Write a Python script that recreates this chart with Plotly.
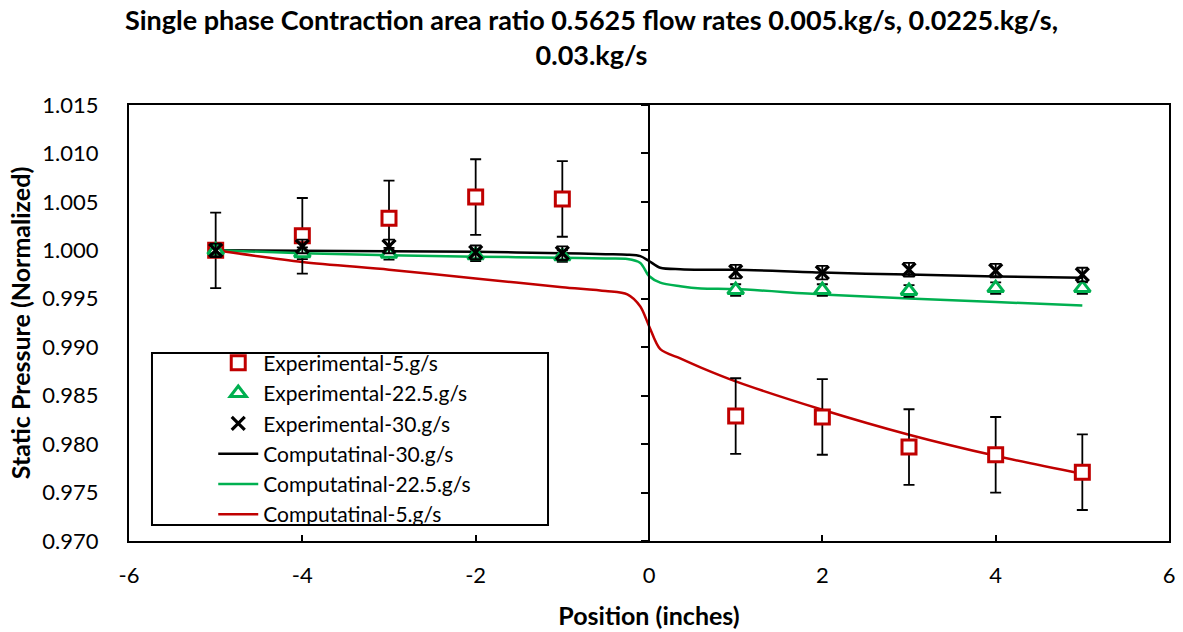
import plotly.graph_objects as go

# Measurement stations (inches from the contraction plane)
positions = [-5, -4, -3, -2, -1, 1, 2, 3, 4, 5]

# Experimental normalized static pressure
exp_5 = [1.0000, 1.0015, 1.0033, 1.0055, 1.0053, 0.9829, 0.9828, 0.9797, 0.9789, 0.9771]
exp_22_5 = [1.0000, 0.9997, 0.99965, 0.9995, 0.9994, 0.9959, 0.9959, 0.9958, 0.9961, 0.9961]
exp_30 = [1.0000, 1.0004, 1.0004, 0.9998, 0.9997, 0.9978, 0.9977, 0.9980, 0.9979, 0.9975]

# Uncertainty (+/-) of each experimental series
err_5 = 0.0039
err_22_5 = 0.0006
err_30 = 0.0007

# Computational profiles
comp_x = [-5, -4, -3, -2, -1, -0.5, -0.25, -0.1, 0, 0.13, 0.36, 0.6, 1, 2, 3, 4, 5]
comp_30 = [1.0000, 0.99995, 0.9999, 0.99985, 0.9997, 0.9996, 0.99955, 0.9994, 0.9989, 0.9982,
           0.99805, 0.9980, 0.9980, 0.9977, 0.9975, 0.9973, 0.99718]
comp_22_5 = [1.0000, 0.9997, 0.9995, 0.99935, 0.99924, 0.99915, 0.9991, 0.9987, 0.99735, 0.99666,
             0.9963, 0.99607, 0.9960, 0.99545, 0.99504, 0.99466, 0.99431]
comp_5 = [1.0000, 0.9988, 0.9980, 0.9971, 0.9962, 0.9958, 0.99545, 0.9942, 0.9922, 0.9898,
          0.98885, 0.9879, 0.98648, 0.98355, 0.98097, 0.97879, 0.97693]

x_ticks = [-6, -4, -2, 0, 2, 4, 6]
x_tick_text = ["-6", "-4", "-2", "0", "2", "4", "6"]
y_ticks = [0.970, 0.975, 0.980, 0.985, 0.990, 0.995, 1.000, 1.005, 1.010, 1.015]

RED = "#C00000"
GREEN = "#00B050"
BLACK = "#000000"
FONT = "Lato"

fig = go.Figure()

def err(v):
    return dict(type="constant", value=v, color=BLACK, thickness=1.8, width=5.5)

fig.add_trace(go.Scatter(
    x=positions, y=exp_5, mode="markers", name="Experimental-5.g/s", yaxis="y2",
    marker=dict(symbol="square", size=14, color="white", line=dict(color=RED, width=3)),
    error_y=err(err_5)))
fig.add_trace(go.Scatter(
    x=positions, y=exp_22_5, mode="markers", name="Experimental-22.5.g/s", yaxis="y2",
    marker=dict(symbol="triangle-up", size=14, color="white", line=dict(color=GREEN, width=3)),
    error_y=err(err_22_5)))
fig.add_trace(go.Scatter(
    x=positions, y=exp_30, mode="markers", name="Experimental-30.g/s", yaxis="y2",
    marker=dict(symbol="x-thin", size=13, color=BLACK, line=dict(color=BLACK, width=3.2)),
    error_y=err(err_30)))

fig.add_trace(go.Scatter(
    x=comp_x, y=comp_30, mode="lines", name="Computatinal-30.g/s",
    line=dict(color=BLACK, width=2.5, shape="spline", smoothing=0.8)))
fig.add_trace(go.Scatter(
    x=comp_x, y=comp_22_5, mode="lines", name="Computatinal-22.5.g/s",
    line=dict(color=GREEN, width=2.5, shape="spline", smoothing=0.8)))
fig.add_trace(go.Scatter(
    x=comp_x, y=comp_5, mode="lines", name="Computatinal-5.g/s",
    line=dict(color=RED, width=2.5, shape="spline", smoothing=0.8)))

y_range = [0.970, 1.015]

fig.update_layout(
    width=1183, height=632,
    margin=dict(l=129, r=14, t=105, b=91),
    paper_bgcolor="white", plot_bgcolor="white",
    font=dict(family=FONT, color=BLACK, size=22),
    title=dict(
        text="Single phase Contraction area ratio 0.5625 flow rates 0.005.kg/s, 0.0225.kg/s,<br>0.03.kg/s",
        x=0.5, xanchor="center", y=0.952, yanchor="top",
        font=dict(family=FONT, size=27, color=BLACK, weight="bold")),
    xaxis=dict(
        range=[-6, 6], tickvals=x_ticks, ticktext=x_tick_text, ticks="inside", ticklen=6,
        tickwidth=1.5, tickcolor=BLACK, showgrid=False, zeroline=False,
        showline=True, linecolor=BLACK, linewidth=2, mirror=True,
        ticklabelstandoff=14, automargin=False,
        title=dict(text="Position (inches)", standoff=20,
                   font=dict(family=FONT, size=25, weight="bold"))),
    yaxis=dict(
        range=y_range, tickvals=y_ticks, tickformat=".3f", ticks="", showgrid=False,
        zeroline=False, showline=True, linecolor=BLACK, linewidth=2, mirror=True,
        ticklabelstandoff=24, automargin=False,
        title=dict(text="Static Pressure (Normalized)", standoff=5,
                   font=dict(family=FONT, size=25, weight="bold"))),
    yaxis2=dict(
        range=y_range, tickvals=y_ticks, overlaying="y", anchor="free", position=0.5,
        side="left", ticks="outside", ticklen=7, tickwidth=1.5, tickcolor=BLACK,
        showticklabels=False, showgrid=False, zeroline=False, automargin=False,
        showline=True, linecolor=BLACK, linewidth=2),
    legend=dict(
        x=0.081, y=0.455, xanchor="left", yanchor="top", bgcolor="rgba(0,0,0,0)",
        borderwidth=0, font=dict(family=FONT, size=21), tracegroupgap=0,
        itemwidth=40),
    shapes=[dict(type="rect", xref="paper", yref="paper",
                 x0=0.0221, x1=0.4029, y0=0.0367, y1=0.4312,
                 line=dict(color=BLACK, width=2), fillcolor="white", layer="below")],
    showlegend=True,
)

fig.write_html("out.html")
